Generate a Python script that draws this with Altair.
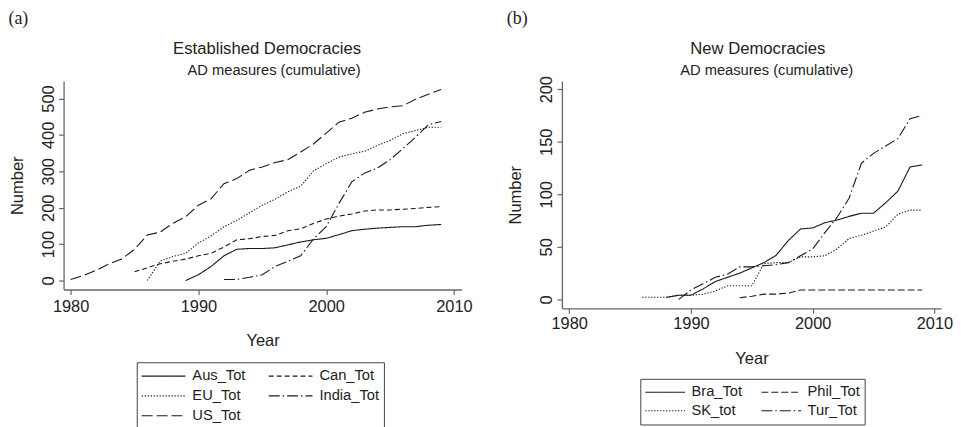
import altair as alt
import pandas as pd

# ---------------- data ----------------
# Panel (a): Established Democracies
aus_years = list(range(1989, 2010))
aus_vals = [0, 16, 39, 68, 86, 88, 88, 90, 98, 106, 112, 116, 126, 137, 141, 144, 146, 148, 148, 152, 154]
can_years = list(range(1985, 2010))
can_vals = [24, 35, 46, 53, 59, 68, 75, 92, 112, 115, 121, 124, 137, 142, 157, 169, 177, 183, 191, 194, 194, 196, 198, 201, 203]
eu_years = list(range(1986, 2010))
eu_vals = [0, 53, 66, 75, 103, 123, 148, 165, 186, 207, 223, 244, 259, 301, 321, 339, 348, 355, 371, 385, 403, 412, 421, 421]
india_years = list(range(1992, 2010))
india_vals = [3, 3, 9, 16, 39, 53, 68, 114, 148, 212, 271, 295, 309, 332, 362, 394, 428, 437]
us_years = list(range(1980, 2010))
us_vals = [3, 14, 28, 46, 59, 86, 125, 133, 157, 175, 207, 225, 266, 280, 303, 312, 324, 332, 353, 375, 405, 435, 446, 462, 471, 477, 480, 498, 512, 525]

# Panel (b): New Democracies
bra_years = list(range(1988, 2010))
bra_vals = [2, 4, 4, 10, 17, 21, 25, 30, 35, 42, 56, 67, 68, 73, 75.5, 79, 82, 82, 92, 103, 126, 128]
phil_years = list(range(1994, 2010))
phil_vals = [1.6, 3, 5, 5, 6, 9, 9, 9, 9, 9, 9, 9, 9, 9, 9, 9]
sk_years = list(range(1986, 2010))
sk_vals = [2, 2, 2, 4, 4, 5, 8, 13, 13, 13, 34, 35, 35, 40.5, 40.5, 41.5, 48, 58, 61, 65, 69, 81, 85, 85]
tur_years = list(range(1989, 2010))
tur_vals = [0, 9, 15, 21, 24, 31, 31, 32, 33, 35, 41.5, 48, 63.5, 78, 96.5, 129.5, 139, 146, 153, 172, 175]

# legend order (entries fill the first column, then the second)
left_series = ["Aus_Tot", "EU_Tot", "US_Tot", "Can_Tot", "India_Tot"]
right_series = ["Bra_Tot", "SK_tot", "Phil_Tot", "Tur_Tot"]

x_ticks = [1980, 1990, 2000, 2010]
left_y_ticks = [0, 100, 200, 300, 400, 500]
right_y_ticks = [0, 50, 100, 150, 200]

left_title = ["Established Democracies"]
right_title = ["New Democracies"]
subtitle = ["AD measures (cumulative)"]
panel_labels = ["(a)", "(b)"]


def frame(pairs):
    rows = []
    for name, yrs, vals in pairs:
        for yr, v in zip(yrs, vals):
            rows.append({"series": name, "year": yr, "value": v})
    return pd.DataFrame(rows)


left_df = frame([
    ("Aus_Tot", aus_years, aus_vals),
    ("Can_Tot", can_years, can_vals),
    ("EU_Tot", eu_years, eu_vals),
    ("India_Tot", india_years, india_vals),
    ("US_Tot", us_years, us_vals),
])
right_df = frame([
    ("Bra_Tot", bra_years, bra_vals),
    ("Phil_Tot", phil_years, phil_vals),
    ("SK_tot", sk_years, sk_vals),
    ("Tur_Tot", tur_years, tur_vals),
])

SANS = "Liberation Sans"
SERIF = "Liberation Serif"
INK = "#1a1a1a"
TXT = "#222222"
AXC = "#666666"

SOLID = [1, 0]
DASH = [5, 3]
DOT = [1.3, 1.7]
DASHDOT = [11, 3, 1.5, 3]
LONGDASH = [11, 4]


def panel(df, series, dashes, xdom, ydom, yticks, w, h, title, title_dx, sub_dx,
          label, year_y, xlab_pad, legend_x, legend_y, sym_len, lab_off, col_pad, clip_h):
    lines = alt.Chart(df).mark_line(color=INK, strokeWidth=1.1).encode(
        x=alt.X("year:Q",
                scale=alt.Scale(domain=xdom, nice=False, zero=False),
                axis=alt.Axis(values=x_ticks, format="d", title="Year",
                              labelPadding=xlab_pad,
                              titleX=w / 2, titleY=year_y, titleBaseline="middle",
                              titleAlign="center")),
        y=alt.Y("value:Q",
                scale=alt.Scale(domain=ydom, nice=False, zero=False),
                axis=alt.Axis(values=yticks, format="d", title="Number",
                              labelAngle=270, labelAlign="center", labelBaseline="bottom",
                              labelPadding=2,
                              titleAngle=270, titleX=-46.3, titleY=h / 2,
                              titleAlign="center", titleBaseline="middle")),
        strokeDash=alt.StrokeDash(
            "series:N",
            scale=alt.Scale(domain=series, range=dashes),
            legend=alt.Legend(title=None, orient="none", legendX=legend_x, legendY=legend_y,
                              columns=2, symbolType="stroke", symbolSize=sym_len * sym_len,
                              symbolStrokeWidth=1.1, symbolStrokeColor=INK,
                              clipHeight=clip_h, labelFont=SANS, labelFontSize=14.8,
                              labelColor=TXT, labelOffset=lab_off, columnPadding=col_pad,
                              rowPadding=0, padding=4, strokeColor="#444444",
                              fillColor="white"),
        ),
    )
    t1 = alt.Chart(pd.DataFrame({"t": title})).mark_text(
        font=SANS, fontSize=16.8, color=TXT, align="center", baseline="middle"
    ).encode(x=alt.value(title_dx), y=alt.value(-32), text="t:N")
    t2 = alt.Chart(pd.DataFrame({"t": subtitle})).mark_text(
        font=SANS, fontSize=14.8, color=TXT, align="center", baseline="middle"
    ).encode(x=alt.value(sub_dx), y=alt.value(-10), text="t:N")
    t3 = alt.Chart(pd.DataFrame({"t": [label]})).mark_text(
        font=SERIF, fontSize=18, color=TXT, align="left", baseline="middle"
    ).encode(x=alt.value(-55.5), y=alt.value(-62.5), text="t:N")
    return alt.layer(lines, t1, t2, t3).properties(width=w, height=h)


left = panel(left_df, left_series, [SOLID, DOT, LONGDASH, DASH, DASHDOT],
             [1979.45, 2010.6], [-24.5, 548], left_y_ticks, 401, 210,
             left_title, 205, 212, panel_labels[0], 51.7, 4,
             73.7, 283.3, 44, 6, 22, 19.7)
right = panel(right_df, right_series, [SOLID, DOT, [7, 3], DASHDOT],
              [1979.4, 2010.55], [-8.5, 207.8], right_y_ticks, 382, 229,
              right_title, 197.3, 206.3, panel_labels[1], 50.3, 2,
              79, 300, 40, 5.5, 18, 18.4)

chart = alt.hconcat(left, right, spacing=34).resolve_scale(
    strokeDash="independent"
).resolve_legend(
    strokeDash="independent"
).properties(
    padding=0
).configure_view(
    strokeWidth=0
).configure_axis(
    grid=False,
    labelFont=SANS, labelFontSize=16.5, labelColor=TXT,
    titleFont=SANS, titleFontSize=16.6, titleColor=TXT, titleFontWeight="normal",
    tickSize=5, tickColor=AXC, domainColor=AXC, domainWidth=1.3, tickWidth=1.2,
)

chart.save("out.html", embed_options={"renderer": "svg", "actions": False})
